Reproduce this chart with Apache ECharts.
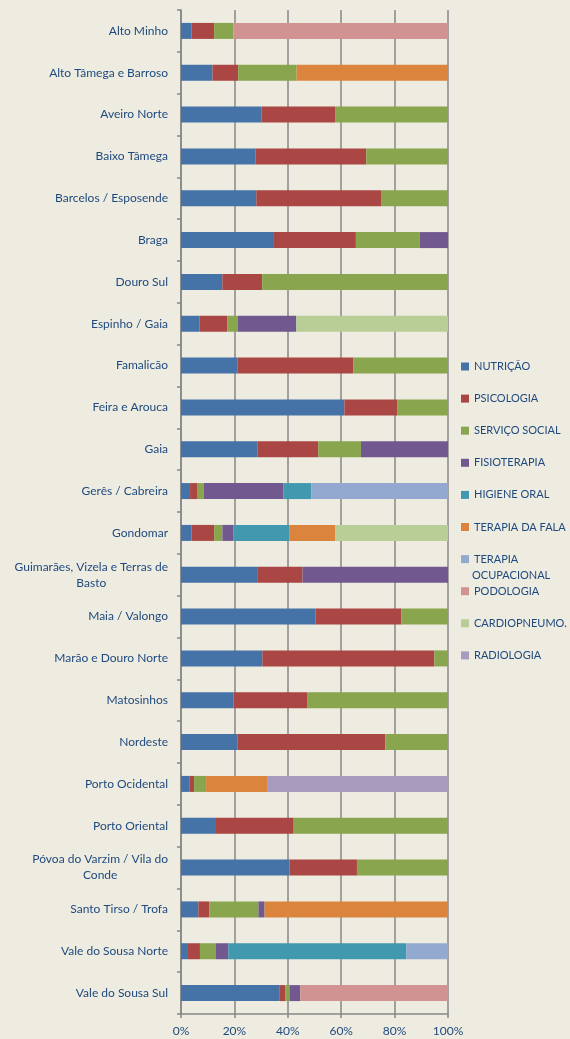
<!DOCTYPE html>
<html>
<head>
<meta charset="utf-8">
<script src="https://cdn.jsdelivr.net/npm/echarts@6/dist/echarts.min.js"></script>
<style>
html, body { margin: 0; padding: 0; background: #EEECE1; }
#chart { width: 570px; height: 1039px; }
</style>
</head>
<body>
<div id="chart"></div>
<script>
// categorias (ACES)
const categories = [
    'Alto Minho', 'Alto Tâmega e Barroso', 'Aveiro Norte', 'Baixo Tâmega',
    'Barcelos / Esposende', 'Braga', 'Douro Sul', 'Espinho / Gaia',
    'Famalicão', 'Feira e Arouca', 'Gaia', 'Gerês / Cabreira', 'Gondomar',
    'Guimarães, Vizela e Terras de\nBasto', 'Maia / Valongo', 'Marão e Douro Norte',
    'Matosinhos', 'Nordeste', 'Porto Ocidental', 'Porto Oriental',
    'Póvoa do Varzim / Vila do\nConde', 'Santo Tirso / Trofa',
    'Vale do Sousa Norte', 'Vale do Sousa Sul'
];

// percentagens por área
const nutricao      = [4, 11.8, 30.1, 27.9, 28.2, 34.5, 15.5, 6.9, 21.1, 61.2, 28.6, 3.4, 3.9, 28.8, 50.4, 30.5, 19.6, 21.1, 3.1, 13.1, 40.6, 6.5, 2.6, 37];
const psicologia    = [8.4, 9.6, 27.6, 41.5, 46.7, 31, 14.9, 10.4, 43.4, 19.9, 22.8, 2.6, 8.5, 16.7, 32.1, 64.4, 27.6, 55.4, 1.8, 29.1, 25.3, 4.1, 4.5, 2];
const servicoSocial = [7.2, 21.9, 42.3, 30.6, 25.1, 23.9, 69.6, 4, 35.5, 18.9, 16, 2.5, 3.1, 0, 17.5, 5.1, 52.8, 23.5, 4.5, 57.8, 34.1, 18.4, 6, 1.6];
const fisioterapia  = [0, 0, 0, 0, 0, 10.6, 0, 21.9, 0, 0, 32.6, 29.9, 4.2, 54.5, 0, 0, 0, 0, 0, 0, 0, 2.3, 4.6, 4.1];
const higieneOral   = [0, 0, 0, 0, 0, 0, 0, 0, 0, 0, 0, 10.4, 20.8, 0, 0, 0, 0, 0, 0, 0, 0, 0, 66.7, 0];
const terapiaFala   = [0, 56.7, 0, 0, 0, 0, 0, 0, 0, 0, 0, 0, 17.2, 0, 0, 0, 0, 0, 23.1, 0, 0, 68.7, 0, 0];
const terapiaOcup   = [0, 0, 0, 0, 0, 0, 0, 0, 0, 0, 0, 51.2, 0, 0, 0, 0, 0, 0, 0, 0, 0, 0, 15.6, 0];
const podologia     = [80.4, 0, 0, 0, 0, 0, 0, 0, 0, 0, 0, 0, 0, 0, 0, 0, 0, 0, 0, 0, 0, 0, 0, 55.3];
const cardiopneumo  = [0, 0, 0, 0, 0, 0, 0, 56.8, 0, 0, 0, 0, 42.3, 0, 0, 0, 0, 0, 0, 0, 0, 0, 0, 0];
const radiologia    = [0, 0, 0, 0, 0, 0, 0, 0, 0, 0, 0, 0, 0, 0, 0, 0, 0, 0, 67.5, 0, 0, 0, 0, 0];

const seriesNames = ['NUTRIÇÃO', 'PSICOLOGIA', 'SERVIÇO SOCIAL', 'FISIOTERAPIA', 'HIGIENE ORAL',
    'TERAPIA DA FALA', 'TERAPIA OCUPACIONAL', 'PODOLOGIA', 'CARDIOPNEUMO.', 'RADIOLOGIA'];
const seriesData = [nutricao, psicologia, servicoSocial, fisioterapia, higieneOral,
    terapiaFala, terapiaOcup, podologia, cardiopneumo, radiologia];
const xTicks = [0, 20, 40, 60, 80, 100];

const textColor = '#1F497D';
const gridColor = '#878787';

const chart = echarts.init(document.getElementById('chart'), null, { renderer: 'canvas' });

const option = {
    backgroundColor: '#EEECE1',
    animation: false,
    color: ['#4572A7', '#AA4643', '#89A54E', '#71588F', '#4198AF',
            '#DB843D', '#93A9CF', '#D19392', '#B9CD96', '#A99BBD'],
    textStyle: { fontFamily: 'Lato' },
    grid: { left: 181, right: 122, top: 10, bottom: 25 },
    legend: {
        orient: 'vertical',
        left: 461,
        top: 359.5,
        padding: 0,
        itemWidth: 8,
        itemHeight: 8,
        itemGap: 18.1,
        itemTextGap: 3,
        icon: 'rect',
        data: seriesNames,
        formatter: function (name) {
            return name === 'TERAPIA OCUPACIONAL' ? 'TERAPIA' : name;
        },
        textStyle: { color: textColor, fontSize: 11, lineHeight: 14, fontFamily: 'Lato' }
    },
    graphic: [{
        type: 'text',
        left: 472,
        top: 570,
        style: { text: 'OCUPACIONAL', fill: textColor, font: '11px Lato' }
    }],
    xAxis: {
        type: 'value',
        min: xTicks[0],
        max: xTicks[xTicks.length - 1],
        interval: 20,
        axisLine: { show: true, lineStyle: { color: gridColor, width: 1.5 } },
        axisTick: { show: true, length: 4, lineStyle: { color: gridColor, width: 1.5 } },
        axisLabel: { formatter: '{value}%', color: textColor, fontSize: 12, margin: 11 },
        splitLine: { show: true, lineStyle: { color: gridColor, width: 1.5 } }
    },
    yAxis: {
        type: 'category',
        inverse: true,
        data: categories,
        axisLine: { show: true, lineStyle: { color: gridColor, width: 1.5 } },
        axisTick: { show: true, length: 4, lineStyle: { color: gridColor, width: 1.5 } },
        axisLabel: {
            color: textColor,
            fontSize: 12,
            margin: 13,
            interval: 0,
            formatter: function (v) {
                return v.split('\n').map(function (s) { return '{c|' + s + '}'; }).join('\n');
            },
            rich: {
                c: { align: 'center', color: textColor, fontSize: 12, lineHeight: 16, fontFamily: 'Lato' }
            }
        }
    },
    series: seriesNames.map(function (name, i) {
        return {
            name: name,
            type: 'bar',
            stack: 'total',
            barWidth: 16,
            data: seriesData[i]
        };
    })
};

chart.setOption(option);
</script>
</body>
</html>
